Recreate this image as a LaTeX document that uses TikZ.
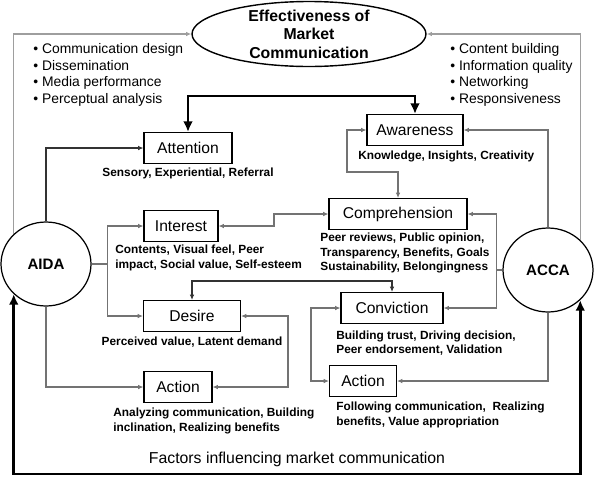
\documentclass[tikz,border=0pt]{standalone}
\usepackage{fontspec}
\setmainfont{Liberation Sans}
\usetikzlibrary{arrows.meta,shapes.geometric}

\begin{document}
\begin{tikzpicture}[x=0.02cm,y=-0.02cm,
  >={Latex[length=3pt,width=2.6pt]},
  box/.style={rectangle,draw,line width=0.6pt,inner sep=1pt,minimum height=0.62cm,font=\fontsize{8.9}{10}\selectfont},
  lbl/.style={inner sep=0pt,align=left,font=\bfseries\fontsize{6.75}{8.2}\selectfont},
  blt/.style={inner sep=0pt,align=left,font=\fontsize{7.9}{9.5}\selectfont},
  hub/.style={ellipse,draw,line width=0.7pt,minimum width=1.8cm,minimum height=1.68cm,inner sep=0pt,font=\bfseries\fontsize{8.6}{10}\selectfont},
  ln/.style={draw=black!55,line width=0.6pt},
  dk/.style={draw=black!80,line width=0.6pt},
  outer/.style={draw=black!38,line width=0.8pt,->},
  fb/.style={line width=1.6pt,{Latex[length=6pt,width=5.5pt]}-{Latex[length=6pt,width=5.5pt]}},
]
\useasboundingbox (0,0) rectangle (595,477);

% ---------------- top: effectiveness ----------------
\coordinate (E) at (309,34);
\node[ellipse,draw,line width=0.8pt,minimum width=4.68cm,minimum height=1.3cm,inner sep=0pt] (Eff) at (E) {};
\node[align=center,inner sep=0pt,font=\bfseries\fontsize{9}{10.5}\selectfont] (EffTxt) at (E) {Effectiveness of\\Market\\Communication};

\node[blt,anchor=west] (BulL) at (33,75) {\textbullet\ Communication design\\\textbullet\ Dissemination\\\textbullet\ Media performance\\\textbullet\ Perceptual analysis};
\node[blt,anchor=west] (BulR) at (450,75) {\textbullet\ Content building\\\textbullet\ Information quality\\\textbullet\ Networking\\\textbullet\ Responsiveness};

% ---------------- hubs ----------------
\node[hub] (AIDA) at (46,264) {AIDA};
\node[hub] (ACCA) at (548,270) {ACCA};

% ---------------- AIDA stages (left) ----------------
\node[box,minimum width=1.76cm] (Attention) at (188,148) {Attention};
\node[box,minimum width=1.48cm] (Interest) at (181,226) {Interest};
\node[box,minimum width=1.94cm] (Desire) at (192,316) {Desire};
\node[box,minimum width=1.36cm] (ActionL) at (178,387) {Action};

\node[lbl] (AttTxt) at (188,173) {Sensory, Experiential, Referral};
\node[lbl,anchor=west] (IntTxt) at (115,258) {Contents, Visual feel, Peer\\impact, Social value, Self-esteem};
\node[lbl] (DesTxt) at (192,342) {Perceived value, Latent demand};
\node[lbl,anchor=west] (ActLTxt) at (113,421) {Analyzing communication, Building\\inclination, Realizing benefits};

% ---------------- ACCA stages (right) ----------------
\node[box,minimum width=1.92cm] (Awareness) at (415,130) {Awareness};
\node[box,minimum width=2.76cm] (Comprehension) at (398,214) {Comprehension};
\node[box,minimum width=2.04cm] (Conviction) at (392,308) {Conviction};
\node[box,minimum width=1.34cm] (ActionR) at (363,381) {Action};

\node[lbl,anchor=west] (AwaTxt) at (358,156) {Knowledge, Insights, Creativity};
\node[lbl,anchor=west] (ComTxt) at (320,253) {Peer reviews, Public opinion,\\Transparency, Benefits, Goals\\Sustainability, Belongingness};
\node[lbl,anchor=west] (ConTxt) at (336,343) {Building trust, Driving decision,\\Peer endorsement, Validation};
\node[lbl,anchor=west] (ActRTxt) at (336,415) {Following communication,\ \ Realizing\\benefits, Value appropriation};

\node[inner sep=0pt,font=\fontsize{9}{10}\selectfont] (Factors) at (297,459) {Factors influencing market communication};

% ---------------- connectors ----------------
\coordinate (TopTurn) at (300,96);
\coordinate (AwTurn) at (347,172);
\coordinate (IcTurn) at (274,220);
\coordinate (DcTurn) at (290,281);
\coordinate (DaTurn) at (288,350);
\coordinate (CaTurn) at (311,345);
\coordinate (Base) at (297,474);

\draw[outer] (AIDA.137) |- (Eff.west);
\draw[outer] (ACCA.43) |- (Eff.east);
\draw[fb] (Attention.north) |- (TopTurn) -| (Awareness.north);
\draw[fb] (AIDA.223) |- (Base) -| (ACCA.317);

\draw[dk,->] (AIDA.north) |- (Attention.west);
\draw[ln,->] (AIDA.east) -- ++(16,0) |- (Interest.west);
\draw[ln,->] (AIDA.east) -- ++(16,0) |- (Desire.west);
\draw[ln,->] (AIDA.south) |- (ActionL.west);

\draw[ln,->] (ACCA.north) |- (Awareness.east);
\draw[ln,->] (ACCA.west) -- ++(-6,0) |- (Comprehension.east);
\draw[ln,->] (ACCA.west) -- ++(-6,0) |- (Conviction.east);
\draw[ln,->] (ACCA.south) |- (ActionR.east);

\draw[ln,<->] (Awareness.west) -| (AwTurn) -| (Comprehension.north);
\draw[ln,<->] (Interest.east) -| (IcTurn) |- (Comprehension.west);
\draw[dk,<->] (Desire.north) |- (DcTurn) -| (Conviction.north);
\draw[ln,<->] (Desire.east) -| (DaTurn) |- (ActionL.east);
\draw[ln,<->] (Conviction.west) -| (CaTurn) |- (ActionR.west);
\end{tikzpicture}
\end{document}
